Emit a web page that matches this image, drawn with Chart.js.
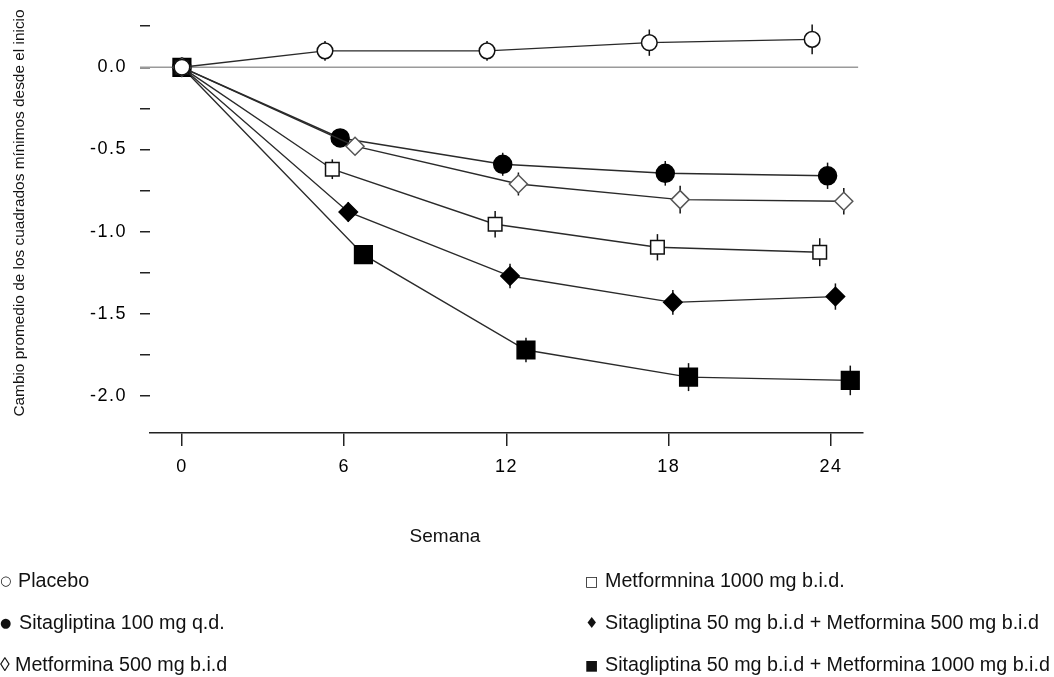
<!DOCTYPE html>
<html>
<head>
<meta charset="utf-8">
<script src="https://cdn.jsdelivr.net/npm/chart.js@4.4.0/dist/chart.umd.min.js"></script>
<style>
    body { margin: 0; background: #fff; }
    #wrap { position: relative; width: 1054px; height: 677px; overflow: hidden; font-family: "Liberation Sans", Arial, sans-serif; color: #111; }
    canvas { position: absolute; left: 0; top: 0; }
    .txt { position: absolute; white-space: nowrap; font-size: 19.7px; line-height: 20px; }
    .sym { position: absolute; font-family: "DejaVu Sans", sans-serif; line-height: 20px; }
    #ytitle { position: absolute; left: 19px; top: 213px; transform: translate(-50%, -50%) rotate(-90deg); font-size: 15.4px; white-space: nowrap; }
    #xtitle { position: absolute; left: 445px; top: 525px; transform: translateX(-50%); font-size: 19px; white-space: nowrap; }
</style>
</head>
<body>
<div id="wrap">
    <canvas id="grafico" width="1054" height="677"></canvas>
    <div id="ytitle">Cambio promedio de los cuadrados mínimos desde el inicio</div>
    <div id="xtitle">Semana</div>

    <div class="sym" style="left:0px; top:571px; font-size:13px;">○</div>
    <div class="txt" style="left:18px; top:570px;">Placebo</div>
    <div class="sym" style="left:0px; top:613px; font-size:13px;">●</div>
    <div class="txt" style="left:19px; top:612px;">Sitagliptina 100 mg q.d.</div>
    <div class="txt" style="left:0px; top:654px;">◊</div>
    <div class="txt" style="left:15px; top:654px;">Metformina 500 mg b.i.d</div>

    <div class="sym" style="left:585px; top:571px; font-size:14px;">□</div>
    <div class="txt" style="left:605px; top:570px;">Metformnina 1000 mg b.i.d.</div>
    <div class="sym" style="left:585px; top:613px; font-size:15px;">♦</div>
    <div class="txt" style="left:605px; top:612px;">Sitagliptina 50 mg b.i.d + Metformina 500 mg b.i.d</div>
    <div class="sym" style="left:585px; top:655px; font-size:14px;">■</div>
    <div class="txt" style="left:605px; top:654px;">Sitagliptina 50 mg b.i.d + Metformina 1000 mg b.i.d</div>
</div>
<script>
    // semanas del eje x y marcas del eje y
    const semanas = [0, 6, 12, 18, 24];
    const marcasY = [-2.0, -1.75, -1.5, -1.25, -1.0, -0.75, -0.5, -0.25, 0.0, 0.25];

    // posiciones x (desplazadas un poco por grupo), valores y error de cada grupo
    const xPlacebo = [0, 5.29, 11.28, 17.28, 23.30];
    const yPlacebo = [0, 0.10, 0.10, 0.15, 0.17];
    const ePlacebo = [0, 0.06, 0.06, 0.08, 0.09];

    const xSita100 = [0, 5.85, 11.86, 17.87, 23.87];
    const ySita100 = [0, -0.43, -0.59, -0.645, -0.66];
    const eSita100 = [0, 0.05, 0.07, 0.075, 0.08];

    const xMet500 = [0, 6.40, 12.44, 18.42, 24.47];
    const yMet500 = [0, -0.48, -0.71, -0.805, -0.815];
    const eMet500 = [0, 0.05, 0.07, 0.085, 0.08];

    const xMet1000 = [0, 5.56, 11.58, 17.58, 23.58];
    const yMet1000 = [0, -0.62, -0.955, -1.095, -1.125];
    const eMet1000 = [0, 0.06, 0.08, 0.08, 0.085];

    const xSM500 = [0, 6.15, 12.13, 18.15, 24.16];
    const ySM500 = [0, -0.88, -1.27, -1.43, -1.395];
    const eSM500 = [0, 0.06, 0.075, 0.075, 0.08];

    const xSM1000 = [0, 6.71, 12.72, 18.73, 24.71];
    const ySM1000 = [0, -1.14, -1.72, -1.885, -1.905];
    const eSM1000 = [0, 0.05, 0.075, 0.085, 0.09];

    function puntos(xs, ys) {
        return xs.map((x, i) => ({ x: x, y: ys[i] }));
    }

    function serie(nombre, xs, ys, errs, estilo, radio, relleno, borde) {
        return {
            label: nombre,
            data: puntos(xs, ys),
            errores: errs,
            showLine: true,
            borderColor: '#2a2a2a',
            borderWidth: 1.4,
            pointStyle: estilo,
            pointRadius: radio,
            pointHoverRadius: radio,
            pointBackgroundColor: relleno,
            pointBorderColor: borde,
            pointBorderWidth: 1.5
        };
    }

    // el dataset 0 se dibuja encima
    const datasets = [
        serie('Placebo', xPlacebo, yPlacebo, ePlacebo, 'circle', 7.8, '#fff', '#111'),
        serie('Metformnina 1000 mg b.i.d.', xMet1000, yMet1000, eMet1000, 'rect', 9.6, '#fff', '#111'),
        serie('Metformina 500 mg b.i.d', xMet500, yMet500, eMet500, 'rectRot', 9, '#fff', '#555'),
        serie('Sitagliptina 100 mg q.d.', xSita100, ySita100, eSita100, 'circle', 9, '#000', '#000'),
        serie('Sitagliptina 50 mg b.i.d + Metformina 500 mg b.i.d', xSM500, ySM500, eSM500, 'rectRot', 9.2, '#000', '#000'),
        serie('Sitagliptina 50 mg b.i.d + Metformina 1000 mg b.i.d', xSM1000, ySM1000, eSM1000, 'rect', 12.5, '#000', '#000')
    ];

    // linea de cero y barras de error
    const extras = {
        id: 'extras',
        beforeDraw(chart) {
            chart.ctx.letterSpacing = '1.5px';
        },
        beforeDatasetsDraw(chart) {
            const ctx = chart.ctx;
            const sx = chart.scales.x;
            const sy = chart.scales.y;
            ctx.letterSpacing = '0px';
            ctx.save();
            const y0 = sy.getPixelForValue(0);
            ctx.strokeStyle = '#9a9a9a';
            ctx.lineWidth = 1.5;
            ctx.beginPath();
            ctx.moveTo(chart.chartArea.left - 10, y0);
            ctx.lineTo(sx.getPixelForValue(25), y0);
            ctx.stroke();

            ctx.strokeStyle = '#111';
            ctx.lineWidth = 1.5;
            chart.data.datasets.forEach(ds => {
                ds.data.forEach((p, i) => {
                    const e = ds.errores[i];
                    if (!e) return;
                    const px = sx.getPixelForValue(p.x);
                    ctx.beginPath();
                    ctx.moveTo(px, sy.getPixelForValue(p.y + e));
                    ctx.lineTo(px, sy.getPixelForValue(p.y - e));
                    ctx.stroke();
                });
            });
            ctx.restore();
        }
    };

    const fuente = { family: '"Liberation Sans", Arial, sans-serif', size: 18 };

    new Chart(document.getElementById('grafico').getContext('2d'), {
        type: 'scatter',
        data: { datasets: datasets },
        options: {
            responsive: false,
            animation: false,
            layout: { padding: { top: 18, right: 191, bottom: 0, left: 0 } },
            plugins: { legend: { display: false }, tooltip: { enabled: false } },
            scales: {
                x: {
                    type: 'linear',
                    min: -1.18,
                    max: 25.18,
                    afterFit: s => { s.height = 244; s.paddingLeft = 0; s.paddingRight = 0; },
                    afterBuildTicks: s => { s.ticks = semanas.map(v => ({ value: v })); },
                    border: { display: true, color: '#222', width: 1.5 },
                    grid: { drawOnChartArea: false, tickLength: 13, color: '#222', lineWidth: 1.5 },
                    ticks: { font: fuente, color: '#000', padding: 10, callback: v => String(v) }
                },
                y: {
                    type: 'linear',
                    min: -2.225,
                    max: 0.3,
                    afterFit: s => { s.width = 150; s.paddingTop = 0; s.paddingBottom = 0; },
                    afterBuildTicks: s => { s.ticks = marcasY.map(v => ({ value: v })); },
                    border: { display: false },
                    grid: { drawOnChartArea: false, tickLength: 10, color: '#222', lineWidth: 1.5 },
                    ticks: {
                        font: fuente,
                        color: '#000',
                        padding: 13,
                        callback: v => Math.abs(v * 2 - Math.round(v * 2)) < 1e-6 ? v.toFixed(1) : ''
                    }
                }
            }
        },
        plugins: [extras]
    });
</script>
</body>
</html>
